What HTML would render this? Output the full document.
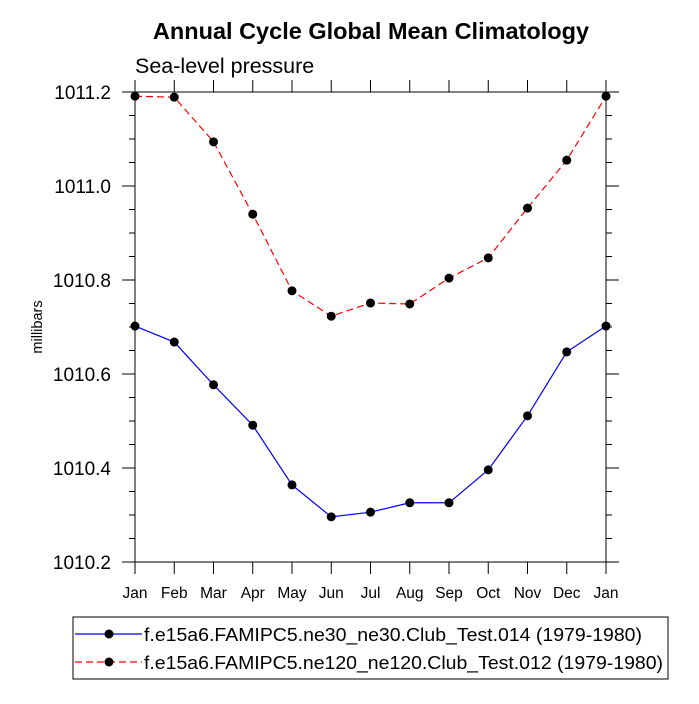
<!DOCTYPE html>
<html><head><meta charset="utf-8"><style>
body{margin:0;background:#fff}
svg text{font-family:"Liberation Sans",sans-serif;fill:#000}
</style></head><body>
<svg id="c" width="699" height="699" xmlns="http://www.w3.org/2000/svg">
<text x="371" y="39" font-size="23.5" font-weight="bold" text-anchor="middle">Annual Cycle Global Mean Climatology</text>
<text x="135" y="73" font-size="21.5">Sea-level pressure</text>
<text transform="translate(42,327) rotate(-90)" font-size="14.5" text-anchor="middle">millibars</text>
<rect x="135" y="92" width="471" height="470" fill="none" stroke="#000" stroke-width="1"/>
<g id="ticks"></g>
<g id="series"></g>
<rect x="73" y="617" width="595" height="62" fill="#fff" stroke="#000"/>
<g>
<line x1="75" y1="634" x2="142" y2="634" stroke="#00f" stroke-width="1.2"/>
<circle cx="109" cy="634" r="4.5" fill="#000"/>
<text x="144" y="641" font-size="18.5" textLength="498" lengthAdjust="spacingAndGlyphs">f.e15a6.FAMIPC5.ne30_ne30.Club_Test.014 (1979-1980)</text>
</g>
<g>
<line x1="75" y1="662" x2="142" y2="662" stroke="#f00" stroke-width="1.2" stroke-dasharray="7,4"/>
<circle cx="109" cy="662" r="4.5" fill="#000"/>
<text x="144" y="669" font-size="18.5" textLength="519" lengthAdjust="spacingAndGlyphs">f.e15a6.FAMIPC5.ne120_ne120.Club_Test.012 (1979-1980)</text>
</g>
</svg>
<script>
const months=["Jan","Feb","Mar","Apr","May","Jun","Jul","Aug","Sep","Oct","Nov","Dec","Jan"];
const blueValues=[1010.702,1010.668,1010.577,1010.491,1010.364,1010.296,1010.306,1010.326,1010.326,1010.396,1010.511,1010.647,1010.702];
const redValues=[1011.191,1011.189,1011.094,1010.940,1010.777,1010.723,1010.751,1010.749,1010.804,1010.847,1010.953,1011.055,1011.191];
const yTickLabels=["1010.2","1010.4","1010.6","1010.8","1011.0","1011.2"];
const NS="http://www.w3.org/2000/svg";
const x0=135,x1=606,y0=562,y1=92,ymin=1010.2,ymax=1011.2;
const xs=i=>x0+(x1-x0)*i/(months.length-1);
const ys=v=>y0-(v-ymin)/(ymax-ymin)*(y0-y1);
function mk(t,a,p){const e=document.createElementNS(NS,t);for(const k in a)e.setAttribute(k,a[k]);p.appendChild(e);return e;}
const tg=document.getElementById('ticks');
months.forEach((m,i)=>{const x=xs(i);
 mk('line',{x1:x,y1:y0,x2:x,y2:y0+12,stroke:'#000'},tg);
 mk('line',{x1:x,y1:y1,x2:x,y2:y1-12,stroke:'#000'},tg);
 const t=mk('text',{x:x,y:y0+36,'font-size':15.5,'text-anchor':'middle'},tg);t.textContent=m;
 
 
});
for(let k=0;k<=20;k++){const v=ymin+k*0.05,y=ys(v),maj=k%4==0,l=maj?13:6;
 mk('line',{x1:x0,y1:y,x2:x0-l,y2:y,stroke:'#000'},tg);
 mk('line',{x1:x1,y1:y,x2:x1+l,y2:y,stroke:'#000'},tg);}
yTickLabels.forEach(s=>{const t=mk('text',{x:111,y:ys(parseFloat(s))+7,'font-size':19,'text-anchor':'end'},tg);t.textContent=s;
 
 });
const sg=document.getElementById('series');
function series(vals,color,dash,name){
 const g=mk('g',{},sg);
 
 
 const pts=vals.map((v,i)=>xs(i)+','+ys(v)).join(' ');
 const a={points:pts,fill:'none',stroke:color,'stroke-width':1.2};if(dash)a['stroke-dasharray']=dash;
 mk('polyline',a,g);
 vals.forEach((v,i)=>{const c=mk('circle',{cx:xs(i),cy:ys(v),r:4.5,fill:'#000'},g);
  
  });
}
series(blueValues,'#00f',null,'series-ne30');
series(redValues,'#f00','7,4','series-ne120');
</script>
</body></html>
